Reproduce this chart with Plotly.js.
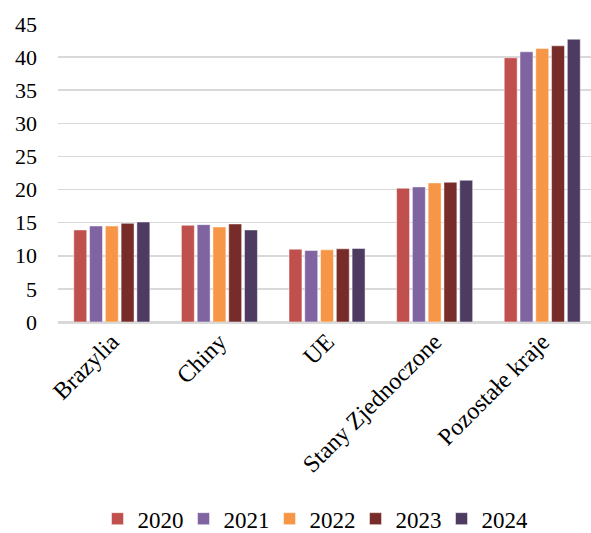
<!DOCTYPE html>
<html>
<head>
<meta charset="utf-8">
<script src="https://cdn.plot.ly/plotly-3.0.1.min.js"></script>
<style>
  html, body { margin: 0; padding: 0; background: #fff; }
  #chart { width: 591px; height: 533px; }
</style>
</head>
<body>
<div id="chart"></div>
<script>
// Regions shown on the category axis
const regions = ['Brazylia', 'Chiny', 'UE', 'Stany Zjednoczone', 'Pozostałe kraje'];

// Values per year, in the order of the regions above
const years = ['2020', '2021', '2022', '2023', '2024'];
const v2020 = [13.9, 14.6, 11.0, 20.2, 39.9];
const v2021 = [14.5, 14.7, 10.8, 20.4, 40.8];
const v2022 = [14.5, 14.35, 10.9, 21.0, 41.3];
const v2023 = [14.9, 14.8, 11.05, 21.1, 41.7];
const v2024 = [15.1, 13.9, 11.1, 21.4, 42.7];

const yearColors = ['#C0504D', '#8064A2', '#F79646', '#772C2A', '#4D3B62'];
const seriesValues = [v2020, v2021, v2022, v2023, v2024];

const font = "'Liberation Serif', 'Times New Roman', serif";

const traces = years.map((yr, i) => ({
  type: 'bar',
  name: yr,
  x: regions,
  y: seriesValues[i],
  marker: {
    color: yearColors[i],
    line: { color: 'rgba(255,255,255,0.6)', width: 0.8 }
  },
  hoverinfo: 'x+y+name'
}));

const layout = {
  width: 591,
  height: 533,
  margin: { l: 58, r: 0, t: 24, b: 211, autoexpand: false },
  paper_bgcolor: '#fff',
  plot_bgcolor: '#fff',
  font: { family: font, size: 22, color: '#000' },
  barmode: 'group',
  bargap: 0.267,
  bargroupgap: 0.18,
  showlegend: true,
  legend: {
    orientation: 'h',
    xref: 'container',
    yref: 'paper',
    x: 0.165,
    xanchor: 'left',
    y: -0.588,
    yanchor: 'top',
    font: { family: font, size: 23, color: '#000' },
    itemwidth: 30,
    entrywidth: 41,
    traceorder: 'normal'
  },
  xaxis: {
    type: 'category',
    range: [-0.5, 4.453],
    tickangle: -45,
    tickfont: { family: font, size: 24, color: '#000' },
    showgrid: false,
    showline: false,
    ticks: '',
    zeroline: false
  },
  yaxis: {
    range: [0, 45],
    dtick: 5,
    tick0: 0,
    showgrid: true,
    gridcolor: '#D9D9D9',
    gridwidth: 1.6,
    zeroline: true,
    zerolinecolor: '#D9D9D9',
    zerolinewidth: 3,
    showline: false,
    ticks: '',
    ticklabelstandoff: 20,
    tickfont: { family: font, size: 22, color: '#000' }
  }
};

Plotly.newPlot('chart', traces, layout, { displayModeBar: false, staticPlot: true });
</script>
</body>
</html>
